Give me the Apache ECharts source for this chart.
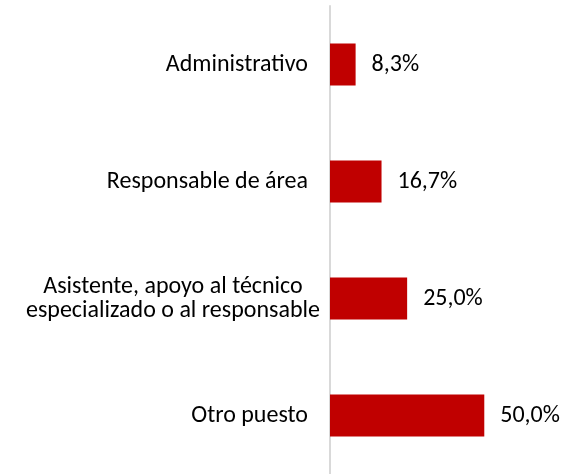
<!DOCTYPE html>
<html>
<head>
<meta charset="utf-8">
<script src="https://cdn.jsdelivr.net/npm/echarts@6/dist/echarts.min.js"></script>
<style>
  html, body { margin: 0; padding: 0; background: #fff; }
  #chart { width: 564px; height: 474px; }
</style>
</head>
<body>
<div id="chart"></div>
<script>
  const categories = [
    'Administrativo',
    'Responsable de área',
    'Asistente, apoyo al técnico\nespecializado o al responsable',
    'Otro puesto'
  ];
  const values = [8.3, 16.7, 25.0, 50.0];

  const chart = echarts.init(document.getElementById('chart'));
  const fontFamily = 'Carlito, Lato, sans-serif';

  const option = {
    animation: false,
    grid: {
      top: 6,
      bottom: 0,
      left: 330,
      right: 18
    },
    xAxis: {
      type: 'value',
      min: 0,
      max: 70,
      show: false
    },
    yAxis: {
      type: 'category',
      inverse: true,
      data: categories,
      axisLine: {
        lineStyle: { color: '#d9d9d9', width: 2 }
      },
      axisTick: { show: false },
      axisLabel: {
        margin: 10,
        align: 'right',
        color: '#000',
        fontFamily: fontFamily,
        fontSize: 24,
        lineHeight: 24,
        formatter: function (v) {
          if (v.indexOf('\n') >= 0) {
            return v.split('\n').map(function (s) { return '{c|' + s + '}'; }).join('\n');
          }
          return '{s|' + v + '}';
        },
        rich: {
          c: { align: 'center', fontFamily: fontFamily, fontSize: 24, lineHeight: 24, color: '#000' },
          s: { padding: [0, 12, 0, 0], fontFamily: fontFamily, fontSize: 24, color: '#000' }
        }
      }
    },
    series: [
      {
        type: 'bar',
        data: values,
        barWidth: 42,
        itemStyle: { color: '#c00000' },
        label: {
          show: true,
          position: 'right',
          distance: 16,
          color: '#000',
          fontFamily: fontFamily,
          fontSize: 24,
          formatter: function (p) {
            return p.value.toFixed(1).replace('.', ',') + '%';
          }
        }
      }
    ]
  };

  chart.setOption(option);
</script>
</body>
</html>
